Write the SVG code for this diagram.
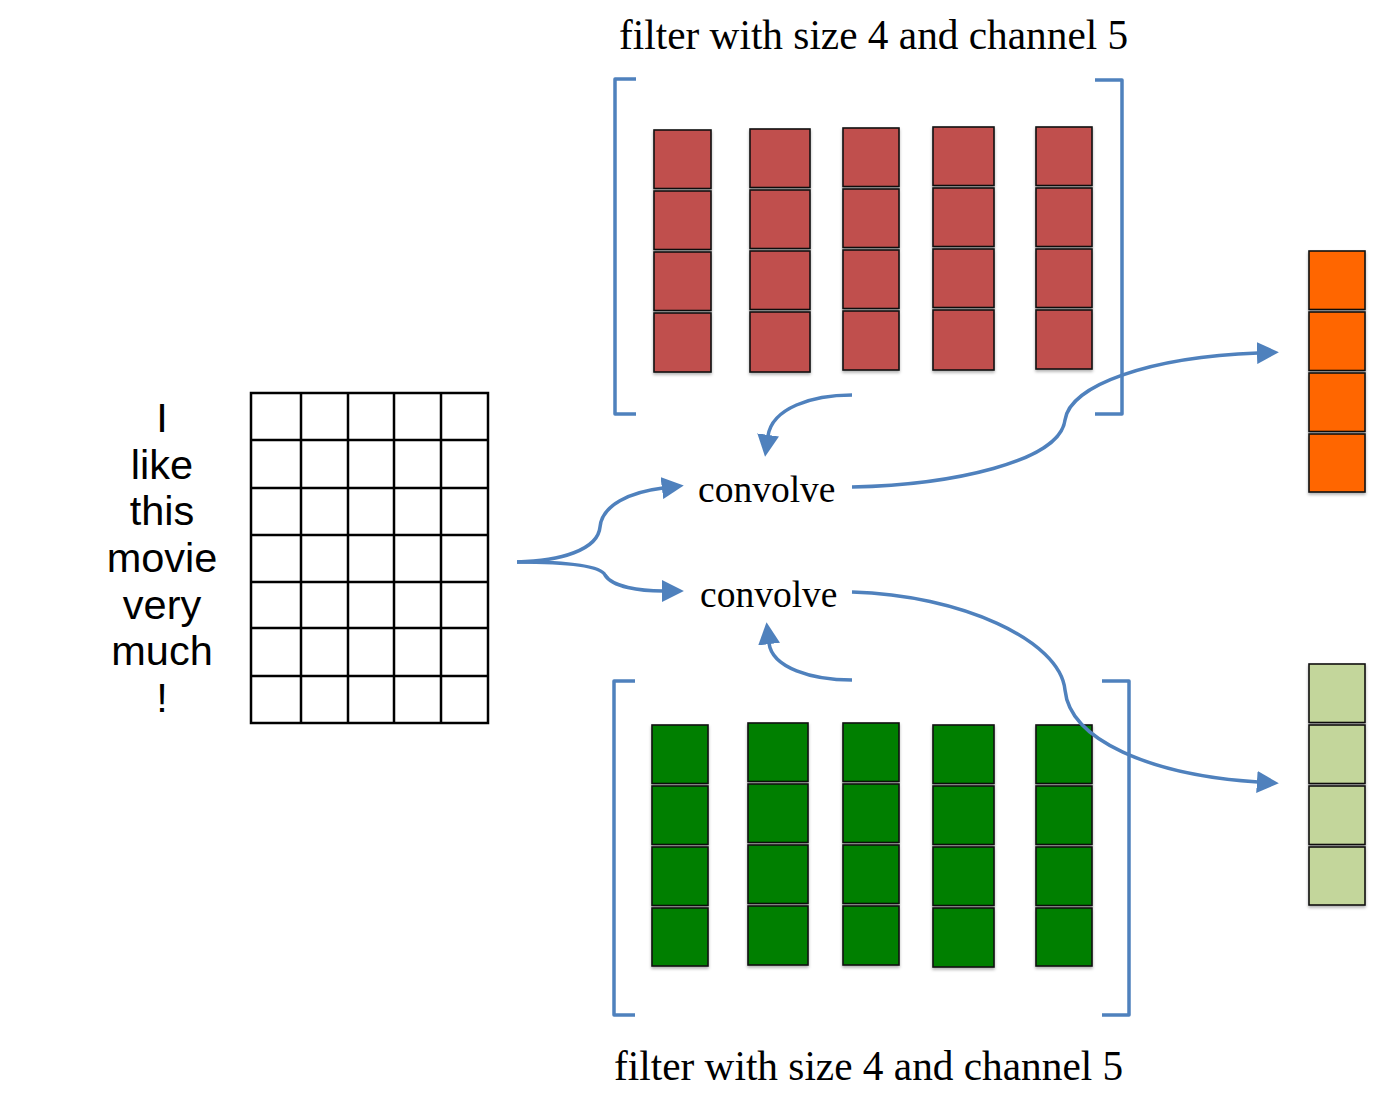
<svg xmlns="http://www.w3.org/2000/svg" width="1373" height="1098" viewBox="0 0 1373 1098">
<style>
.bg{fill:#ffffff}
.title{font-family:"Liberation Serif","Times New Roman",serif;font-size:41.3px;fill:#000}
.conv{font-family:"Liberation Serif","Times New Roman",serif;font-size:37.5px;fill:#000}
.word{font-family:"Liberation Sans",Arial,sans-serif;font-size:41.5px;fill:#000;text-anchor:middle}
.grid{fill:none;stroke:#000;stroke-width:2.5}
.cell{stroke:#111;stroke-width:1.6;filter:url(#sh)}
.red{fill:#C0504D}
.grn{fill:#007F00}
.org{fill:#FF6600}
.lgr{fill:#C3D69B}
.br{fill:none;stroke:#4F81BD;stroke-width:3.5;stroke-linejoin:round}
.arr{fill:none;stroke:#4F81BD;stroke-width:3.5;marker-end:url(#ah)}
</style>
<defs>
<filter id="sh" x="-20%" y="-20%" width="140%" height="150%">
<feDropShadow dx="0" dy="2" stdDeviation="1.5" flood-color="#000" flood-opacity="0.3"/>
</filter>
<marker id="ah" markerUnits="userSpaceOnUse" markerWidth="22" markerHeight="22" viewBox="0 0 20 20" refX="1" refY="10" orient="auto">
<path d="M0,0 L20,10 L0,20 z" fill="#4F81BD"/>
</marker>
</defs>
<rect class="bg" x="0" y="0" width="1373" height="1098"/>

<g id="title-top"><text class="title" x="619" y="49">filter with size 4 and channel 5</text></g>
<g id="title-bottom"><text class="title" x="614" y="1080">filter with size 4 and channel 5</text></g>

<g id="sentence">
<text class="word" x="162" y="432">I</text>
<text class="word" x="162" y="479">like</text>
<text class="word" x="162" y="525">this</text>
<text class="word" x="162" y="572">movie</text>
<text class="word" x="162" y="619">very</text>
<text class="word" x="162" y="665">much</text>
<text class="word" x="162" y="712">!</text>
</g>

<g id="embedding-grid">
<rect class="grid" x="251" y="393" width="237" height="330"/>
<path class="grid" d="M301,393V723M348,393V723M394,393V723M441,393V723M251,440H488M251,488H488M251,535H488M251,582H488M251,628H488M251,676H488"/>
</g>

<g id="red-filter">
<path class="br" d="M636,79H615V414H636"/>
<path class="br" d="M1095,80H1122V414H1095"/>
<g class="red">
<rect class="cell" x="654" y="130" width="57" height="58.5"/>
<rect class="cell" x="654" y="191" width="57" height="58.5"/>
<rect class="cell" x="654" y="252" width="57" height="58.5"/>
<rect class="cell" x="654" y="313" width="57" height="59"/>
<rect class="cell" x="750" y="129" width="60" height="58.5"/>
<rect class="cell" x="750" y="190" width="60" height="58.5"/>
<rect class="cell" x="750" y="251" width="60" height="58.5"/>
<rect class="cell" x="750" y="312" width="60" height="60"/>
<rect class="cell" x="843" y="128" width="56" height="58.5"/>
<rect class="cell" x="843" y="189" width="56" height="58.5"/>
<rect class="cell" x="843" y="250" width="56" height="58.5"/>
<rect class="cell" x="843" y="311" width="56" height="59"/>
<rect class="cell" x="933" y="127" width="61" height="58.5"/>
<rect class="cell" x="933" y="188" width="61" height="58.5"/>
<rect class="cell" x="933" y="249" width="61" height="58.5"/>
<rect class="cell" x="933" y="310" width="61" height="60"/>
<rect class="cell" x="1036" y="127" width="56" height="58.5"/>
<rect class="cell" x="1036" y="188" width="56" height="58.5"/>
<rect class="cell" x="1036" y="249" width="56" height="58.5"/>
<rect class="cell" x="1036" y="310" width="56" height="59"/>
</g>
</g>

<g id="green-filter">
<path class="br" d="M635,681H614V1015H635"/>
<path class="br" d="M1102,681H1129V1015H1102"/>
<g class="grn">
<rect class="cell" x="652" y="725" width="56" height="58.5"/>
<rect class="cell" x="652" y="786" width="56" height="58.5"/>
<rect class="cell" x="652" y="847" width="56" height="58.5"/>
<rect class="cell" x="652" y="908" width="56" height="58"/>
<rect class="cell" x="748" y="723" width="60" height="58.5"/>
<rect class="cell" x="748" y="784" width="60" height="58.5"/>
<rect class="cell" x="748" y="845" width="60" height="58.5"/>
<rect class="cell" x="748" y="906" width="60" height="59"/>
<rect class="cell" x="843" y="723" width="56" height="58.5"/>
<rect class="cell" x="843" y="784" width="56" height="58.5"/>
<rect class="cell" x="843" y="845" width="56" height="58.5"/>
<rect class="cell" x="843" y="906" width="56" height="59"/>
<rect class="cell" x="933" y="725" width="61" height="58.5"/>
<rect class="cell" x="933" y="786" width="61" height="58.5"/>
<rect class="cell" x="933" y="847" width="61" height="58.5"/>
<rect class="cell" x="933" y="908" width="61" height="59"/>
<rect class="cell" x="1036" y="725" width="56" height="58.5"/>
<rect class="cell" x="1036" y="786" width="56" height="58.5"/>
<rect class="cell" x="1036" y="847" width="56" height="58.5"/>
<rect class="cell" x="1036" y="908" width="56" height="58"/>
</g>
</g>

<g id="output-orange" class="org">
<rect class="cell" x="1309" y="251" width="56" height="58.5"/>
<rect class="cell" x="1309" y="312" width="56" height="58.5"/>
<rect class="cell" x="1309" y="373" width="56" height="58.5"/>
<rect class="cell" x="1309" y="434" width="56" height="58"/>
</g>

<g id="output-lightgreen" class="lgr">
<rect class="cell" x="1309" y="664" width="56" height="58.5"/>
<rect class="cell" x="1309" y="725" width="56" height="58.5"/>
<rect class="cell" x="1309" y="786" width="56" height="58.5"/>
<rect class="cell" x="1309" y="847" width="56" height="58"/>
</g>

<g id="convolve-top"><text class="conv" x="698" y="502">convolve</text></g>
<g id="convolve-bottom"><text class="conv" x="700" y="607">convolve</text></g>

<g id="connectors">
<path class="arr" d="M852,395 C812,395 772,408 768,436"/>
<path class="arr" d="M852,680 C812,680 772,668 769,643"/>
<path class="arr" d="M517,562 C560,561 598,550 600,527 C602,505 630,492 663,488"/>
<path class="arr" d="M517,562 C560,562 600,565 605,575 C612,587 640,591 663,591"/>
<path class="arr" d="M852,487 C950,485 1060,462 1065,420 C1070,385 1150,357 1258,353"/>
<path class="arr" d="M852,592 C960,595 1060,640 1065,690 C1070,740 1150,775 1258,782"/>
</g>
</svg>
